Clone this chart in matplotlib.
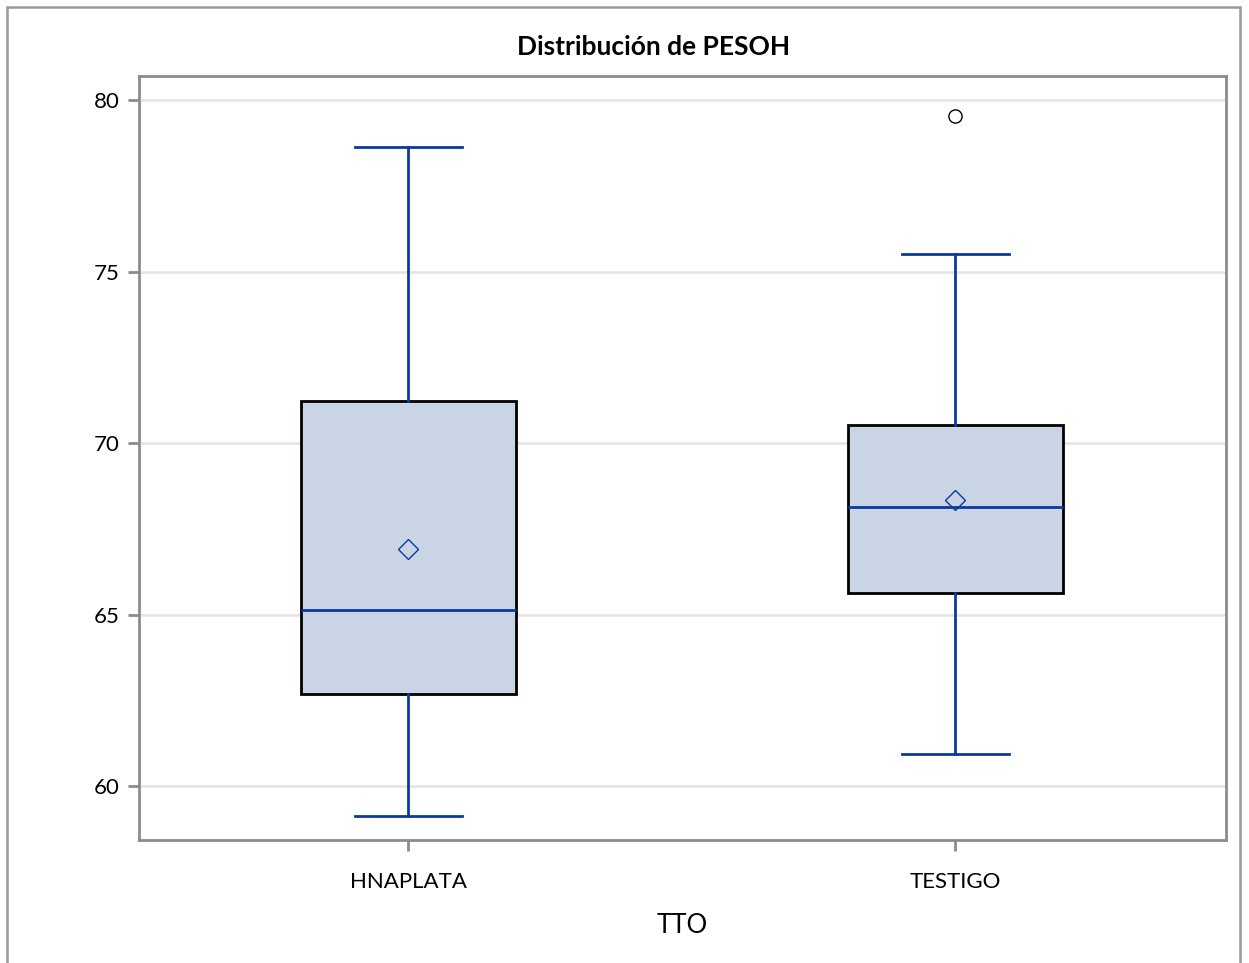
import matplotlib.pyplot as plt
from matplotlib.patches import Rectangle

# summary stats per treatment group
groups = ['HNAPLATA', 'TESTIGO']
q1 = [62.68, 65.63]
med = [65.13, 68.13]
q3 = [71.22, 70.52]
whislo = [59.13, 60.93]
whishi = [78.63, 75.51]
means = [66.91, 68.34]
outliers = [[], [79.53]]

BLUE = '#0a3aa0'
FILL = '#c9d5e5'
GRAY = '#8c8c8c'

plt.rcParams['font.family'] = ['Lato', 'DejaVu Sans']

fig = plt.figure(figsize=(12.49, 9.63), dpi=100)
ax = fig.add_axes([139/1249, 1-840/963, (1226-139)/1249, (840-76)/963])

stats = []
for i, g in enumerate(groups):
    stats.append(dict(label=g, q1=q1[i], med=med[i], q3=q3[i], whislo=whislo[i],
                      whishi=whishi[i], mean=means[i], fliers=outliers[i]))

ax.bxp(stats, positions=[0, 1], widths=0.393, capwidths=0.196, showmeans=True,
       patch_artist=True,
       boxprops=dict(facecolor=FILL, edgecolor='black', linewidth=2.0),
       medianprops=dict(color=BLUE, linewidth=2.0),
       whiskerprops=dict(color=BLUE, linewidth=2.0),
       capprops=dict(color=BLUE, linewidth=2.0),
       meanprops=dict(marker='D', markerfacecolor='none', markeredgecolor=BLUE,
                      markersize=10, markeredgewidth=1.0),
       flierprops=dict(marker='o', markerfacecolor='none', markeredgecolor='black',
                       markersize=9.5, markeredgewidth=1.0),
       zorder=3)

ax.set_xlim(-0.492, 1.495)
ax.set_ylim(58.43, 80.70)
ax.set_yticks([60, 65, 70, 75, 80])
ax.grid(axis='y', color='#e3e3e3', linewidth=1.8, zorder=0)
ax.set_axisbelow(True)

for s in ax.spines.values():
    s.set_color(GRAY)
    s.set_linewidth(2.0)
ax.tick_params(axis='both', colors=GRAY, width=2.0, length=8, labelsize=16,
               labelcolor='black', pad=6)
ax.tick_params(axis='x', pad=15)
ax.set_xlabel('TTO', fontsize=18.5, labelpad=15)

fig.text(654/1249, 1-47/963, 'Distribución de PESOH', ha='center', va='center',
         fontsize=19, fontweight='bold')

# outer frame around the graph area
fig.patches.append(Rectangle((7/1249, -0.05), (1240-7)/1249, 1-7/963+0.05,
                             transform=fig.transFigure, fill=False,
                             edgecolor='#999999', linewidth=1.8))

fig.savefig('out.png', dpi=100)
